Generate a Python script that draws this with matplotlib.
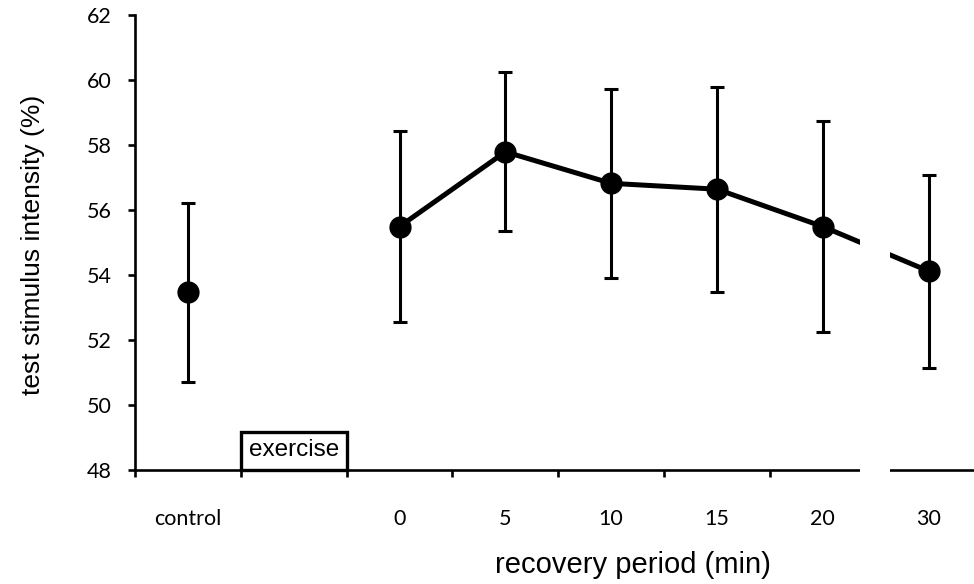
import matplotlib
matplotlib.use("Agg")
import matplotlib.pyplot as plt
from matplotlib.patches import Rectangle
import numpy as np

# Data
categories = ["control", "", "0", "5", "10", "15", "20", "30"]
ctrl_mean = 53.47
ctrl_err = 2.75
rec_labels = ["0", "5", "10", "15", "20", "30"]
rec_means = [55.49, 57.79, 56.82, 56.64, 55.49, 54.12]
rec_err = [2.95, 2.45, 2.9, 3.15, 3.25, 2.97]
y_ticks = [48, 50, 52, 54, 56, 58, 60, 62]

W, H = 974, 584
fig = plt.figure(figsize=(W / 100, H / 100), dpi=100)
ax_left, ax_right, ax_top, ax_bot = 135, 974, 15, 470
ax = fig.add_axes([ax_left / W, (H - ax_bot) / H, (ax_right - ax_left) / W, (ax_bot - ax_top) / H])

x_all = np.arange(len(categories))
ax.set_xlim(-0.5, (974 - 188) / 105.8)
ax.set_ylim(48, 62)

# control point
ax.errorbar([x_all[0]], [ctrl_mean], yerr=[ctrl_err], fmt="o", color="black",
            markersize=15, elinewidth=2.2, capsize=4.7, capthick=2.2, zorder=4)
# recovery series
rx = x_all[2:]
ax.errorbar(rx, rec_means, yerr=rec_err, fmt="none", ecolor="black",
            elinewidth=2.2, capsize=4.7, capthick=2.2, zorder=3)
ax.plot(rx, rec_means, "-", color="black", lw=3.6, zorder=3)
ax.plot(rx, rec_means, "o", color="black", markersize=15, zorder=5)

# axis break between 20 and 30
b0 = (860 - 188) / 105.8
b1 = (890 - 188) / 105.8
ax.axvspan(b0, b1, ymin=-0.03, ymax=1, color="white", zorder=4.5, clip_on=False, lw=0)

# exercise box
ax.add_patch(Rectangle((0.5, 48), 1.0, 1.17, fill=False, edgecolor="black",
                       lw=2.4, zorder=3, clip_on=False))
ax.text(1.0, 48.6, "exercise", ha="center", va="center", fontsize=17.5,
        family="Liberation Sans")

# spines
for s in ["top", "right"]:
    ax.spines[s].set_visible(False)
ax.spines["left"].set_linewidth(1.9)
ax.spines["bottom"].set_linewidth(1.9)

# y ticks
ax.set_yticks(y_ticks)
ax.set_yticklabels([str(v) for v in y_ticks], family="Lato", fontsize=15.5)
ax.tick_params(axis="y", direction="out", length=5, width=1.9, pad=12)

# x ticks: labels at centers, tick marks at boundaries
ax.set_xticks(x_all)
ax.set_xticklabels(categories, family="Lato", fontsize=15.5)
ax.set_xticks(np.arange(-0.5, 6.0, 1.0), minor=True)
ax.tick_params(axis="x", which="major", length=0, pad=28)
ax.tick_params(axis="x", which="minor", direction="out", length=5, width=1.9)

ax.text((633 - ax_left) / (ax_right - ax_left), (ax_bot - 565) / (ax_bot - ax_top),
        "recovery period (min)", transform=ax.transAxes, ha="center", va="center",
        fontsize=21, family="Liberation Sans")
fig.text(33 / W, 1 - 245 / H, "test stimulus intensity (%)", rotation=90,
         ha="center", va="center", fontsize=19, family="Liberation Sans")

fig.savefig("out.png", dpi=100)
